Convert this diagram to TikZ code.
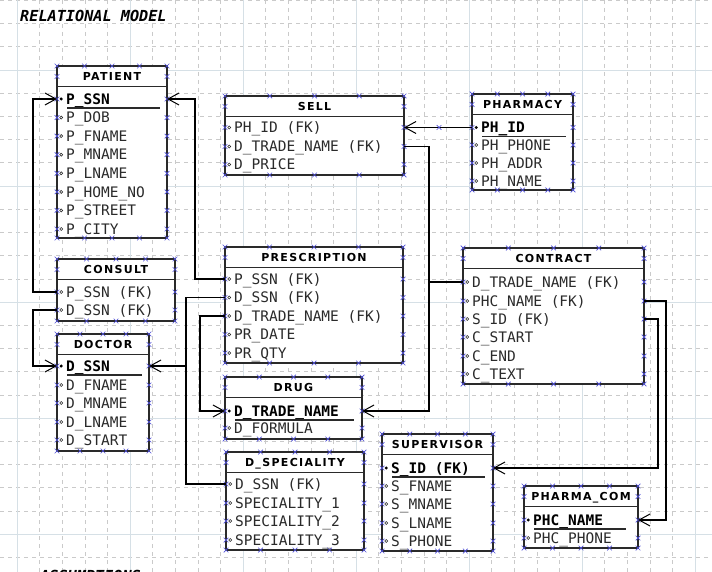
\documentclass[tikz,border=0pt]{standalone}
\usepackage{fontspec}
\setmainfont{DejaVu Sans}
\newfontfamily\monof{DejaVu Sans Mono}
\newfontfamily\titlef[LetterSpace=12]{DejaVu Sans}
\usetikzlibrary{arrows.meta}
\definecolor{gridmaj}{HTML}{D6E0E6}
\definecolor{gridmin}{HTML}{CACACA}
\definecolor{handle}{HTML}{4F4FD8}
\definecolor{ink}{HTML}{2A2A2A}
\tikzset{
  ebox/.style={draw=ink, line width=1.4pt, fill=white, inner sep=0pt, outer sep=0pt},
  hline/.style={draw=ink, line width=1.2pt},
  etitle/.style={font=\titlef\bfseries\fontsize{11}{11}\selectfont, text=black, inner sep=0pt, text height=8pt, text depth=0pt},
  atext/.style={font=\monof\fontsize{14.5}{14.5}\selectfont, text=ink, inner sep=0pt, anchor=base west},
  ktext/.style={font=\monof\bfseries\fontsize{14.5}{14.5}\selectfont, text=black, inner sep=0pt, anchor=base west},
  heading/.style={font=\monof\bfseries\itshape\fontsize{15.2}{15.2}\selectfont, text=black, inner sep=0pt, anchor=base west},
  xmark/.style={draw=handle, line width=0.7pt},
  conn/.style={draw=black, line width=1.2pt},
  fkarrow/.style={-{Straight Barb[length=11pt,width=12pt,line width=1pt]}},
  gmin/.style={draw=gridmin, line width=0.6pt, dash pattern=on 4pt off 4pt},
  gmaj/.style={draw=gridmaj, line width=0.9pt}
}
\newcommand\xm[2]{\draw[xmark, shift={({#1},{#2})}] (-2.3,-2.3) -- (2.3,2.3) (-2.3,2.3) -- (2.3,-2.3);}
\newcommand\entity[7]{%
  \node[ebox, minimum width={(#5-#3)*1pt}, minimum height={(#6-#4)*1pt}] (#1) at ({(#3+#5)/2},{(#4+#6)/2}) {};
  \draw[hline] (#3,{#4+20.5}) -- (#5,{#4+20.5});
  \node[etitle] (#1-title) at ({(#3+#5)/2},{#4+10.5}) {#2};
  \foreach \q in {0,0.25,0.5,0.75,1}{\xm{#3+\q*(#5-#3)}{#4}\xm{#3+\q*(#5-#3)}{#6}}
  \foreach \yy in {#4+10.5,#7}{\xm{#3}{\yy}\xm{#5}{\yy}}
}
\newcommand\attr[4]{%
  \coordinate (#1) at (#2,#3);
  \draw[ink, line width=0.6pt] ({#2+4.2},{#3}) circle[radius=1.5pt];
  \node[atext] (#1-t) at ({#2+9},{#3+5.3}) {#4};
}
\newcommand\keyattr[5]{%
  \coordinate (#1) at (#2,#3);
  \fill[black] ({#2+4.2},{#3}) circle[radius=1.7pt];
  \node[ktext] (#1-t) at ({#2+9},{#3+5.3}) {#4};
  \draw[ink, line width=1.3pt] ({#2+10},{#3+9}) -- ({#5},{#3+9});
}
\begin{document}
\begin{tikzpicture}[x=1pt,y=-1pt]
\useasboundingbox[fill=white] (0,0) rectangle (712,572);
% grid
\foreach \k in {0,...,31}{\draw[gmin] ({17+22.6*\k},0) -- ({17+22.6*\k},572);}
\foreach \k in {0,...,24}{\draw[gmin] (0,{0.4+23.2*\k}) -- (712,{0.4+23.2*\k});}
\foreach \xx in {17,130,243,356,469,582,695}{\draw[gmaj] (\xx,0) -- (\xx,572);}
\foreach \yy in {70,186,302,418,534}{\draw[gmaj] (0,\yy) -- (712,\yy);}
% headings
\node[heading] (title) at (20,21.5) {RELATIONAL MODEL};
\node[heading] (assume) at (40,581) {ASSUMPTIONS};
% PATIENT
\entity{patient}{PATIENT}{57}{66}{167}{238}{99,117.6,136.1,154.7,173.3,191.9,210.4,229}
\keyattr{pt-pssn}{57}{99}{P\_SSN}{160}
\attr{pt-dob}{57}{117.6}{P\_DOB}
\attr{pt-fname}{57}{136.1}{P\_FNAME}
\attr{pt-mname}{57}{154.7}{P\_MNAME}
\attr{pt-lname}{57}{173.3}{P\_LNAME}
\attr{pt-home}{57}{191.9}{P\_HOME\_NO}
\attr{pt-street}{57}{210.4}{P\_STREET}
\attr{pt-city}{57}{229}{P\_CITY}
% SELL
\entity{sell}{SELL}{225}{96}{404}{175}{127.5,146.5,164.5}
\attr{s-phid}{225}{127.5}{PH\_ID (FK)}
\attr{s-dtn}{225}{146.5}{D\_TRADE\_NAME (FK)}
\attr{s-price}{225}{164.5}{D\_PRICE}
% PHARMACY
\entity{pharmacy}{PHARMACY}{472}{94}{573}{190}{127.5,145,163,181}
\keyattr{ph-id}{472}{127.5}{PH\_ID}{566}
\attr{ph-phone}{472}{145}{PH\_PHONE}
\attr{ph-addr}{472}{163}{PH\_ADDR}
\attr{ph-name}{472}{181}{PH\_NAME}
% CONSULT
\entity{consult}{CONSULT}{57}{259}{175}{321}{292,310}
\attr{cs-pssn}{57}{292}{P\_SSN (FK)}
\attr{cs-dssn}{57}{310}{D\_SSN (FK)}
% DOCTOR
\entity{doctor}{DOCTOR}{57}{334}{149}{451}{366,385,403,422,440}
\keyattr{dr-dssn}{57}{366}{D\_SSN}{142}
\attr{dr-fname}{57}{385}{D\_FNAME}
\attr{dr-mname}{57}{403}{D\_MNAME}
\attr{dr-lname}{57}{422}{D\_LNAME}
\attr{dr-start}{57}{440}{D\_START}
% PRESCRIPTION
\entity{prescription}{PRESCRIPTION}{225}{247}{403}{363}{279,297.5,316,334.5,353}
\attr{pr-pssn}{225}{279}{P\_SSN (FK)}
\attr{pr-dssn}{225}{297.5}{D\_SSN (FK)}
\attr{pr-dtn}{225}{316}{D\_TRADE\_NAME (FK)}
\attr{pr-date}{225}{334.5}{PR\_DATE}
\attr{pr-qty}{225}{353}{PR\_QTY}
% DRUG
\entity{drug}{DRUG}{225}{377}{362}{439}{411,428}
\keyattr{dg-dtn}{225}{411}{D\_TRADE\_NAME}{354}
\attr{dg-formula}{225}{428}{D\_FORMULA}
% D_SPECIALITY
\entity{dspec}{D\_SPECIALITY}{226}{452}{364}{550}{484,503,521,540}
\attr{ds-dssn}{226}{484}{D\_SSN (FK)}
\attr{ds-sp1}{226}{503}{SPECIALITY\_1}
\attr{ds-sp2}{226}{521}{SPECIALITY\_2}
\attr{ds-sp3}{226}{540}{SPECIALITY\_3}
% CONTRACT
\entity{contract}{CONTRACT}{463}{248}{644}{384}{282,301,319,337,356,374}
\attr{ct-dtn}{463}{282}{D\_TRADE\_NAME (FK)}
\attr{ct-phc}{463}{301}{PHC\_NAME (FK)}
\attr{ct-sid}{463}{319}{S\_ID (FK)}
\attr{ct-start}{463}{337}{C\_START}
\attr{ct-end}{463}{356}{C\_END}
\attr{ct-text}{463}{374}{C\_TEXT}
% SUPERVISOR
\entity{supervisor}{SUPERVISOR}{382}{434}{493}{551}{468,486,504,523,541}
\keyattr{sv-id}{382}{468}{S\_ID (FK)}{485}
\attr{sv-fname}{382}{486}{S\_FNAME}
\attr{sv-mname}{382}{504}{S\_MNAME}
\attr{sv-lname}{382}{523}{S\_LNAME}
\attr{sv-phone}{382}{541}{S\_PHONE}
% PHARMA_COM
\entity{pharmacom}{PHARMA\_COM}{524}{486}{638}{548}{520,538}
\keyattr{pc-name}{524}{520}{PHC\_NAME}{626}
\attr{pc-phone}{524}{538}{PHC\_PHONE}
% connectors
\coordinate (dtrunk) at (186,366);
\coordinate (ttrunk) at (429,411);
\draw[conn,fkarrow] (consult.west |- cs-pssn) -- ++(-24,0) |- (patient.west |- pt-pssn);
\draw[conn,fkarrow] (consult.west |- cs-dssn) -- ++(-24,0) |- (doctor.west |- dr-dssn);
\draw[conn,fkarrow] (prescription.west |- pr-pssn) -- ++(-30,0) |- (patient.east |- pt-pssn);
\draw[conn,fkarrow] (prescription.west |- pr-dssn) -| (dtrunk) -- (doctor.east |- dr-dssn);
\draw[conn] (dspec.west |- ds-dssn) -| (dtrunk);
\draw[conn,fkarrow] (prescription.west |- pr-dtn) -- ++(-25,0) |- (drug.west |- dg-dtn);
\draw[conn,fkarrow] (sell.east |- s-dtn) -| (ttrunk) -- (drug.east |- dg-dtn);
\draw[conn] (contract.west |- ct-dtn) -| (ttrunk);
\draw[conn,fkarrow] (pharmacy.west |- ph-id) -- (sell.east |- s-phid);
\xm{439}{127.5}
\draw[conn,fkarrow] (contract.east |- ct-phc) -- ++(22,0) |- (pharmacom.east |- pc-name);
\draw[conn,fkarrow] (contract.east |- ct-sid) -- ++(14,0) |- (supervisor.east |- sv-id);
\end{tikzpicture}
\end{document}
